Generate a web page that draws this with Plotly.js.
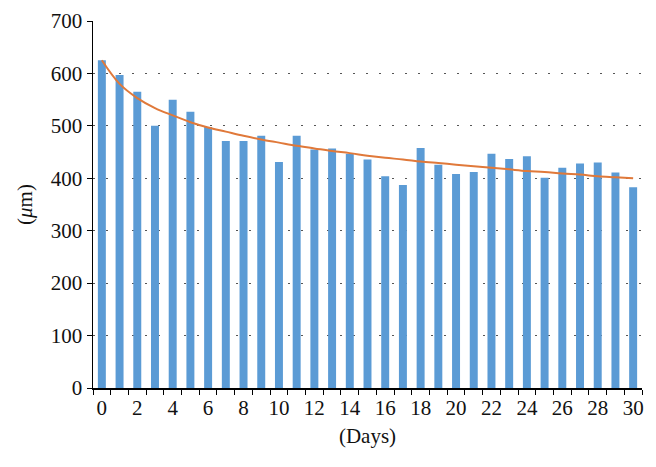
<!DOCTYPE html>
<html>
<head>
<meta charset="utf-8">
<script src="https://cdn.plot.ly/plotly-3.0.1.min.js"></script>
<style>html,body{margin:0;padding:0;background:#fff;}#chart{width:656px;height:467px;}</style>
</head>
<body>
<div id="chart"></div>
<script>
var days = [0,1,2,3,4,5,6,7,8,9,10,11,12,13,14,15,16,17,18,19,20,21,22,23,24,25,26,27,28,29,30];
var thickness = [625,597,565,500,550,527,498,471,471,481,431,481,455,457,447,436,404,387,458,426,408,412,447,437,442,401,420,428,430,411,383];
var trend = [625,580,553,534,520,507,497,489,481,474,468,462,457,452,448,443,439,436,432,429,426,423,420,417,414,412,409,407,404,402,400];
var xTickVals = [0,2,4,6,8,10,12,14,16,18,20,22,24,26,28,30];
var yTickVals = [0,100,200,300,400,500,600,700];

var serif = "Liberation Serif";
var fs = 21;

var data = [
  {type:'bar', x:days, y:thickness, width:0.45, marker:{color:'#5B9BD5'}, hoverinfo:'x+y'},
  {type:'scatter', mode:'lines', x:days, y:trend, line:{color:'#E0793A', width:2, shape:'spline', smoothing:1}}
];

var layout = {
  width:656, height:467,
  margin:{l:93, r:14, t:21, b:79},
  paper_bgcolor:'#fff', plot_bgcolor:'#fff',
  showlegend:false,
  font:{family:serif, size:fs, color:'#111'},
  xaxis:{
    range:[-0.5,30.5], tickmode:'array', tickvals:xTickVals, ticks:'',
    showgrid:false, zeroline:false, showline:true, linecolor:'#000', linewidth:1.5,
    tickfont:{family:serif, size:fs, color:'#111'},
    minor:{tick0:0.5, dtick:1, ticks:'outside', ticklen:5, tickcolor:'#000', tickwidth:1, showgrid:false},
    title:{text:'(Days)', font:{family:serif, size:fs, color:'#111'}, standoff:9}
  },
  yaxis:{
    range:[0,700], tickmode:'array', tickvals:yTickVals, ticks:'outside', ticklen:5, tickcolor:'#000',
    showgrid:true, gridcolor:'#555', griddash:'2px,11px', gridwidth:1.2,
    zeroline:false, showline:true, linecolor:'#000', linewidth:1.5,
    tickfont:{family:serif, size:fs, color:'#111'},
    title:{text:'(<i>μ</i>m)', font:{family:serif, size:fs, color:'#111'}, standoff:12}
  }
};

Plotly.newPlot('chart', data, layout, {displayModeBar:false, staticPlot:true});
</script>
</body>
</html>
